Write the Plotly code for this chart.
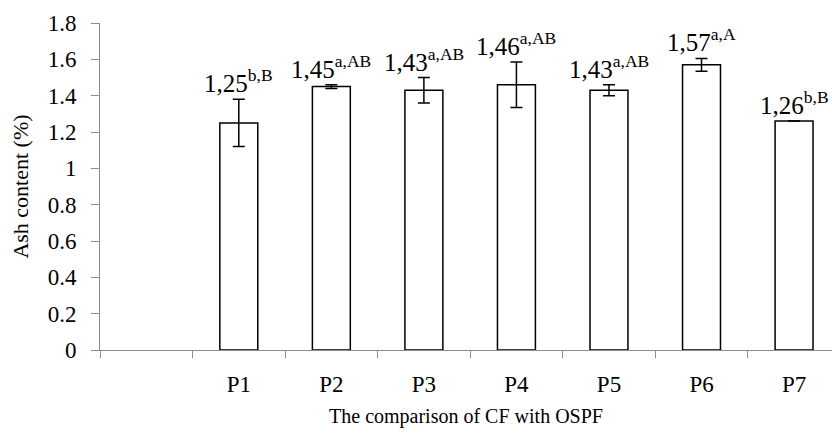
import plotly.graph_objects as go

categories = [" ", "P1", "P2", "P3", "P4", "P5", "P6", "P7"]
bar_categories = ["P1", "P2", "P3", "P4", "P5", "P6", "P7"]
ash_values = [1.25, 1.45, 1.43, 1.46, 1.43, 1.57, 1.26]
ash_errors = [0.13, 0.01, 0.07, 0.125, 0.03, 0.035, 0.0]
sig_letters = ["b,B", "a,AB", "a,AB", "a,AB", "a,AB", "a,A", "b,B"]
y_ticks = [0, 0.2, 0.4, 0.6, 0.8, 1, 1.2, 1.4, 1.6, 1.8]
y_tick_labels = ["0", "0.2", "0.4", "0.6", "0.8", "1", "1.2", "1.4", "1.6", "1.8"]

FONT = "Liberation Serif, Times New Roman, serif"
AXIS_COLOR = "#8c8c8c"

fig = go.Figure()
fig.add_trace(go.Bar(
    x=bar_categories,
    y=ash_values,
    width=0.41,
    marker=dict(color="white", line=dict(color="black", width=1.5)),
    error_y=dict(type="data", array=ash_errors, visible=True,
                 color="black", thickness=1.5, width=6),
    showlegend=False,
))

for cat, v, e, s in zip(bar_categories, ash_values, ash_errors, sig_letters):
    txt = f"{v:.2f}".replace(".", ",") + f"<sup>{s}</sup>"
    fig.add_annotation(x=cat, y=v + e, text=txt, showarrow=False,
                       yanchor="bottom", xanchor="center", yshift=0,
                       font=dict(family=FONT, size=25, color="black"))

fig.update_layout(
    width=832, height=438,
    margin=dict(l=100, r=0, t=23, b=88),
    paper_bgcolor="white", plot_bgcolor="white",
    font=dict(family=FONT, color="black"),
    bargap=0.59,
)
fig.update_xaxes(
    type="category", categoryorder="array", categoryarray=categories,
    range=[-0.5, 7.41],
    showline=True, linecolor=AXIS_COLOR, linewidth=1,
    ticks="outside", tickson="boundaries", ticklen=7, tickcolor=AXIS_COLOR,
    ticklabelstandoff=13,
    tickfont=dict(family=FONT, size=23, color="black"),
    showgrid=False, zeroline=False,
    title=dict(text="The comparison of CF with OSPF", standoff=13,
               font=dict(family=FONT, size=20, color="black")),
)
fig.update_yaxes(
    range=[0, 1.8], tickvals=y_ticks, ticktext=y_tick_labels,
    showline=True, linecolor=AXIS_COLOR, linewidth=1,
    ticks="outside", ticklen=8, tickcolor=AXIS_COLOR,
    ticklabelstandoff=10,
    tickfont=dict(family=FONT, size=23, color="black"),
    showgrid=False, zeroline=False,
    title=dict(text="Ash content (%)", standoff=12,
               font=dict(family=FONT, size=22, color="black")),
)

fig.write_html("out.html")
